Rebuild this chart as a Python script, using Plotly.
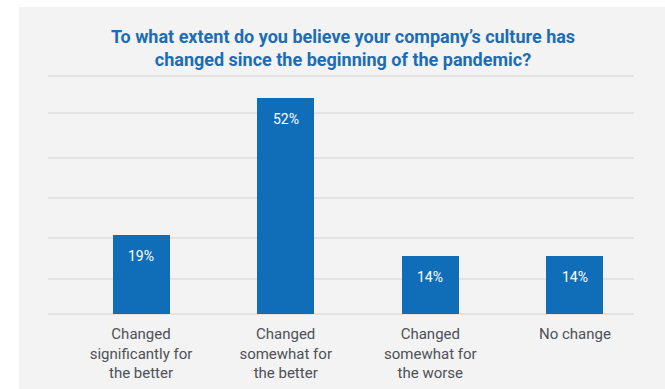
import plotly.graph_objects as go

# Survey responses
categories = [
    "Changed<br>significantly for<br>the better",
    "Changed<br>somewhat for<br>the better",
    "Changed<br>somewhat for<br>the worse",
    "No change",
]
shares = [19, 52, 14, 14]

title_text = ("To what extent do you believe your company\u2019s culture has<br>"
              "changed since the beginning of the pandemic?")

BLUE = "#106eb8"
TITLE_BLUE = "#1a6db6"
PANEL = "#f3f3f3"
GRID = "#e3e3e3"
LABEL_GREY = "#4d5157"
FONT = "Roboto, Arial, sans-serif"

# plot-area geometry (px)
W, H = 665, 389
ML, MR, MT, MB = 48, 31, 74, 73
pw, ph = W - ML - MR, H - MT - MB

y_range = [-0.5, 57.7]
grid_levels = [0, 8.4, 18.3, 27.9, 37.5, 48.3, 57.2]

x_idx = list(range(len(categories)))

fig = go.Figure()
fig.add_trace(go.Bar(
    x=x_idx,
    y=shares,
    width=0.394,
    marker=dict(color=BLUE, line=dict(width=0)),
    hoverinfo="skip",
))

# value labels inside the top of each bar
for i, v in zip(x_idx, shares):
    fig.add_annotation(
        x=i, y=v, xref="x", yref="y",
        text=f"{v}%", showarrow=False,
        yanchor="middle", yshift=-21,
        font=dict(family=FONT, size=14, color="white"),
    )

# grey panel behind the chart
fig.add_shape(
    type="rect", xref="paper", yref="paper", layer="below",
    x0=(19 - ML) / pw, x1=(665 - ML) / pw,
    y0=(MT + ph - H) / ph, y1=1 + (MT - 7) / ph,
    fillcolor=PANEL, line=dict(width=0),
)

fig.update_layout(
    width=W, height=H,
    margin=dict(l=ML, r=MR, t=MT, b=MB, pad=0, autoexpand=False),
    paper_bgcolor="white",
    plot_bgcolor="rgba(0,0,0,0)",
    showlegend=False,
    bargap=0,
    title=dict(
        text=title_text,
        x=343 / W, xanchor="center",
        y=1 - 43 / H, yanchor="middle",
        font=dict(family=FONT, size=18, color=TITLE_BLUE, weight="bold"),
    ),
    xaxis=dict(
        tickmode="array", tickvals=x_idx, ticktext=categories,
        range=[-0.643, 3.408],
        automargin=False,
        showgrid=False, zeroline=False, showline=False,
        ticks="outside", ticklen=4, tickcolor="rgba(0,0,0,0)",
        tickfont=dict(family=FONT, size=15, color=LABEL_GREY),
    ),
    yaxis=dict(
        range=y_range,
        automargin=False,
        tickmode="array", tickvals=grid_levels,
        showticklabels=False,
        showgrid=True, gridcolor=GRID, gridwidth=1.5,
        zeroline=False, showline=False,
    ),
)

fig.write_html("out.html")
